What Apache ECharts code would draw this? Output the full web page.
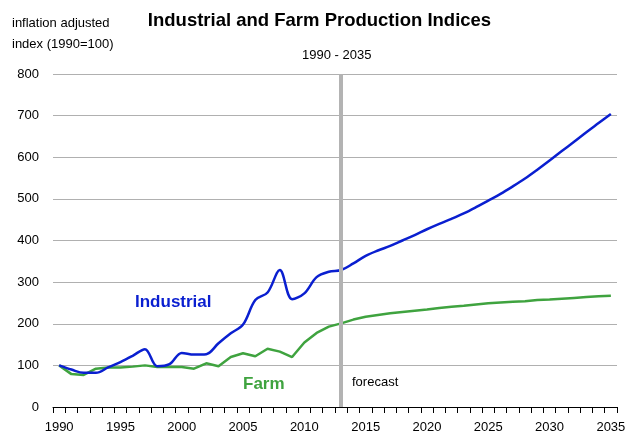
<!DOCTYPE html>
<html><head><meta charset="utf-8">
<script src="https://cdn.jsdelivr.net/npm/echarts@6/dist/echarts.min.js"></script>
<style>html,body{margin:0;padding:0;background:#fff}#c{width:639px;height:438px}</style>
</head><body><div id="c"></div>
<script>
var years = [];
for (var y = 1990; y <= 2035; y++) years.push(String(y));
var industrial = [100,90,82,82,95,108,123,139,98,103,130,126,127,153,177,198,257,275,329,259,273,312,325,329,345,363,376,387,400,413,427,440,452,465,480,496,512,530,549,570,592,615,637,660,682,704];
var farm = [100,79,77,92,95,95,97,100,96,96,96,92,105,98,120,129,122,140,133,120,155,178,193,201,210,217,221,225,228,231,234,238,241,243,246,249,251,253,254,257,258,260,262,264,266,267];
var forecastYear = '2013';
var FONT = '"Liberation Sans", Arial, sans-serif';
var chart = echarts.init(document.getElementById('c'));
chart.setOption({
  animation: false,
  textStyle: {fontFamily: FONT},
  title: [{
    text: 'Industrial and Farm Production Indices',
    left: 'center', top: 6,
    textStyle: {fontFamily: FONT, fontSize: 18.5, fontWeight: 'bold', color: '#000'}
  }, {
    text: '1990 - 2035', left: 297, top: 44,
    textStyle: {fontFamily: FONT, fontSize: 13, fontWeight: 'normal', color: '#000'}
  }],
  graphic: [
    {type: 'text', left: 12, top: 13, style: {text: 'inflation adjusted\nindex (1990=100)', font: '13px ' + FONT, fill: '#000', lineHeight: 21}},
    {type: 'text', left: 135, top: 294, style: {text: 'Industrial', font: 'bold 17px ' + FONT, fill: '#0A1FD0'}},
    {type: 'text', left: 243, top: 376, style: {text: 'Farm', font: 'bold 17px ' + FONT, fill: '#3FA33F'}},
    {type: 'text', left: 352, top: 376, style: {text: 'forecast', font: '13px ' + FONT, fill: '#000'}}
  ],
  grid: {left: 53, right: 22, top: 74, bottom: 31},
  xAxis: {
    type: 'category', data: years, boundaryGap: true,
    axisLine: {lineStyle: {color: '#000', width: 1}},
    axisTick: {show: true, interval: 0, inside: false, length: 6, lineStyle: {color: '#000'}},
    axisLabel: {interval: 4, color: '#000', fontSize: 13, fontFamily: FONT, margin: 14},
    splitLine: {show: false}
  },
  yAxis: {
    type: 'value', min: 0, max: 800, interval: 100,
    axisLine: {show: false}, axisTick: {show: false},
    axisLabel: {color: '#000', fontSize: 13, fontFamily: FONT, margin: 14},
    splitLine: {lineStyle: {color: '#b0b0b0', width: 1}}
  },
  series: [{
    name: 'Industrial', type: 'line', data: industrial, smooth: 0.35, symbol: 'none',
    lineStyle: {color: '#0A1FD0', width: 2.5}, z: 3,
    markLine: {
      silent: true, symbol: 'none', label: {show: false},
      lineStyle: {color: '#b3b3b3', width: 4, type: 'solid'},
      data: [{xAxis: forecastYear}]
    }
  }, {
    name: 'Farm', type: 'line', data: farm, smooth: false, symbol: 'none',
    lineStyle: {color: '#3FA33F', width: 2.5}, z: 2
  }]
});
</script></body></html>
